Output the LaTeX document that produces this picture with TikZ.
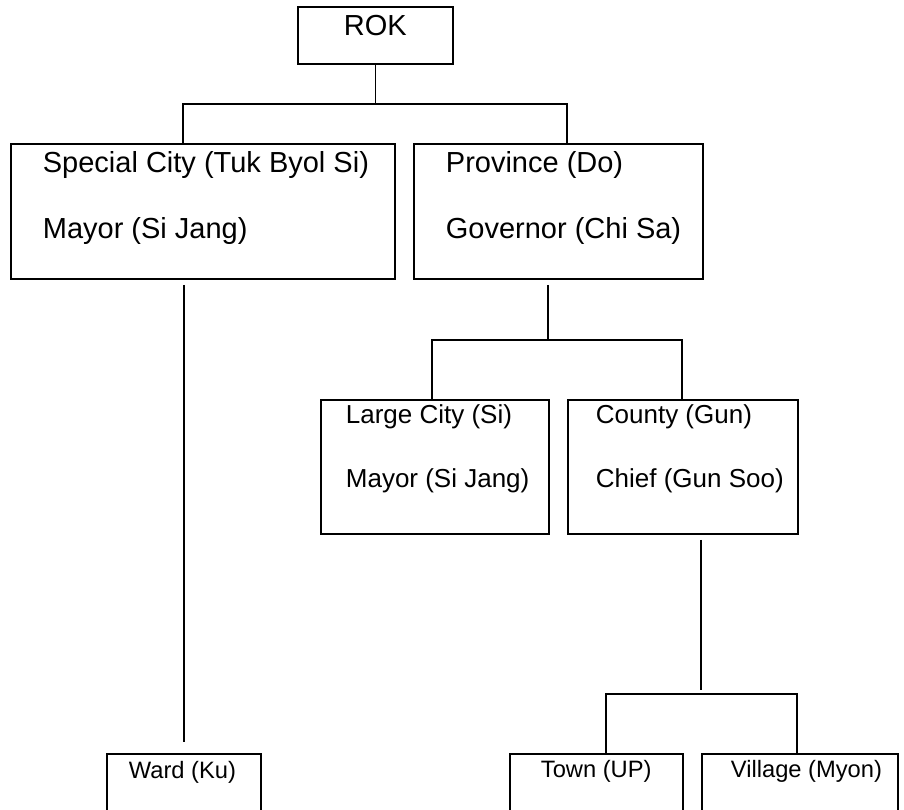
\documentclass[tikz,border=0pt]{standalone}
\usepackage{fontspec}
\setmainfont{Liberation Sans}
\begin{document}
\begin{tikzpicture}[x=1pt,y=-1pt,line width=1.8pt,
	box/.style={draw,rectangle,inner sep=0pt,anchor=north west},
	big/.style={font=\fontsize{29}{29}\selectfont,inner sep=0pt,anchor=base west},
	mid/.style={font=\fontsize{26}{26}\selectfont,inner sep=0pt,anchor=base west},
	small/.style={font=\fontsize{23.7}{24}\selectfont,inner sep=0pt,anchor=base west}]
	\useasboundingbox (0,0) rectangle (904,809);
	\clip (0,0) rectangle (904,809);
	% boxes
	\node[box,minimum width=155pt,minimum height=57pt] (rok) at (297,6) {};
	\node[box,minimum width=384pt,minimum height=135pt] (sc) at (10,143) {};
	\node[box,minimum width=289pt,minimum height=135pt] (prov) at (413,143) {};
	\node[box,minimum width=228pt,minimum height=134pt] (lc) at (320,399) {};
	\node[box,minimum width=230pt,minimum height=134pt] (cty) at (567,399) {};
	\node[box,minimum width=154pt,minimum height=90pt] (ward) at (106,753) {};
	\node[box,minimum width=173pt,minimum height=90pt] (town) at (509,753) {};
	\node[box,minimum width=196pt,minimum height=90pt] (vil) at (701,753) {};
	% texts
	\node[big,anchor=base] (rokT) at (rok.south |- 0,35) {ROK};
	\node[big] (scA) at (42,172) {Special City (Tuk Byol Si)};
	\node[big] (scB) at (42,238) {Mayor (Si Jang)};
	\node[big] (prA) at (445,172) {Province (Do)};
	\node[big] (prB) at (445,238) {Governor (Chi Sa)};
	\node[mid] (lcA) at (345,423) {Large City (Si)};
	\node[mid] (lcB) at (345,487) {Mayor (Si Jang)};
	\node[mid] (ctA) at (595,423) {County (Gun)};
	\node[mid] (ctB) at (595,487) {Chief (Gun Soo)};
	\node[small] (wdA) at (128,778) {Ward (Ku)};
	\node[small] (twA) at (540,777) {Town (UP)};
	\node[small] (vlA) at (730,777) {Village (Myon)};
	% connectors
	\coordinate (top) at (rok.south |- 0,104);
	\coordinate (mid) at (548,340);
	\coordinate (low) at (701,694);
	\draw (rok.south) -- (top);
	\draw (sc.north -| 183,0) |- (top) -| (prov.north -| 567,0);
	\draw[shorten <=5pt,shorten >=11pt] (ward.north |- sc.south) -- (ward.north);
	\draw[shorten <=5pt] (prov.south -| mid) -- (mid);
	\draw (lc.north -| 432,0) |- (mid) -| (cty.north -| 682,0);
	\draw[shorten <=5pt,shorten >=4pt] (cty.south -| low) -- (low);
	\draw (town.north -| 606,0) |- (low) -| (vil.north -| 797,0);
\end{tikzpicture}
\end{document}
